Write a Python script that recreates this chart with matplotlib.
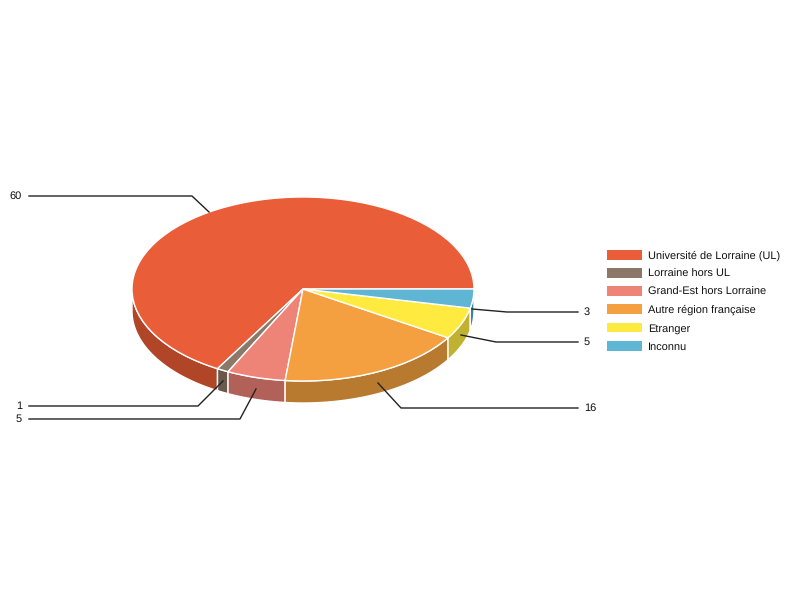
import numpy as np
import matplotlib
matplotlib.use('Agg')
import matplotlib.pyplot as plt
from matplotlib.patches import Polygon

labels = ['Université de Lorraine (UL)', 'Lorraine hors UL', 'Grand-Est hors Lorraine',
          'Autre région française', 'Etranger', 'Inconnu']
values = [60, 1, 5, 16, 5, 3]
top_colors = ['#E95D38', '#8C7868', '#EE8377', '#F4A041', '#FFEB3F', '#5EB6D4']
side_colors = ['#B04527', '#695A4E', '#B26159', '#B87A2F', '#C0B130', '#477F9F']

CX, CY = 303, 289
RX, RY = 171, 92
DEPTH = 22 / RY

plt.rcParams['font.family'] = ['Liberation Sans', 'DejaVu Sans']
plt.rcParams['text.hinting'] = 'no_hinting'
plt.rcParams['text.kerning_factor'] = 6


def px(x):
    return (x - CX) / RX


def py(y):
    return (CY - y) / RY


def draw_side(ax, start, end, color):
    # only the front half of the rim can be seen
    start = max(start, 180)
    if end <= start:
        return
    t = np.radians(np.linspace(start, end, 60))
    xs = np.cos(t)
    ys = np.sin(t)
    pts = np.column_stack([np.r_[xs, xs[::-1]], np.r_[ys, ys[::-1] - DEPTH]])
    ax.add_patch(Polygon(pts, closed=True, facecolor=color, edgecolor='white', linewidth=1, zorder=1))


def draw_leader(ax, xs, ys, text, ha):
    ax.plot([px(x) for x in xs], [py(y) for y in ys], color='#222222', linewidth=1, zorder=5)
    tx = xs[0] - 7 if ha == 'right' else xs[-1] + 6
    ax.text(px(tx), py(ys[0] if ha == 'right' else ys[-1]), text, ha=ha, va='center', fontsize=7.9,
            color='#111111')


fig = plt.figure(figsize=(8, 6), dpi=100)
ax = fig.add_axes([0, 0, 1, 1])

angle = 0
for value, color in zip(values, side_colors):
    sweep = value / sum(values) * 360
    draw_side(ax, angle, angle + sweep, color)
    angle += sweep

wedges, _ = ax.pie(values, colors=top_colors, startangle=0, counterclock=True, radius=1,
                   wedgeprops={'edgecolor': 'white', 'linewidth': 1, 'zorder': 2})
for w in wedges:
    w.set_zorder(2)

ax.set_aspect('auto')
ax.set_xlim(px(0), px(800))
ax.set_ylim(py(600), py(0))
ax.axis('off')

draw_leader(ax, [29, 192, 209], [196, 196, 212], str(values[0]), 'right')
draw_leader(ax, [29, 198, 223], [406, 406, 381], str(values[1]), 'right')
draw_leader(ax, [29, 240, 256], [419, 419, 389], str(values[2]), 'right')
draw_leader(ax, [378, 401, 578], [383, 408, 408], str(values[3]), 'left')
draw_leader(ax, [461, 496, 578], [335, 342, 342], str(values[4]), 'left')
draw_leader(ax, [472, 507, 578], [309, 312, 312], str(values[5]), 'left')

ax.legend(wedges, labels, loc='upper left', bbox_to_anchor=(607 / 800, 1 - 250 / 600),
          bbox_transform=fig.transFigure, frameon=False, fontsize=7.9, borderpad=0, borderaxespad=0,
          handlelength=3.2, handleheight=1.0, handletextpad=0.55, labelspacing=0.655,
          labelcolor='#111111')
for h in ax.get_legend().get_patches():
    h.set_edgecolor('none')

fig.savefig('out.png', dpi=100)
